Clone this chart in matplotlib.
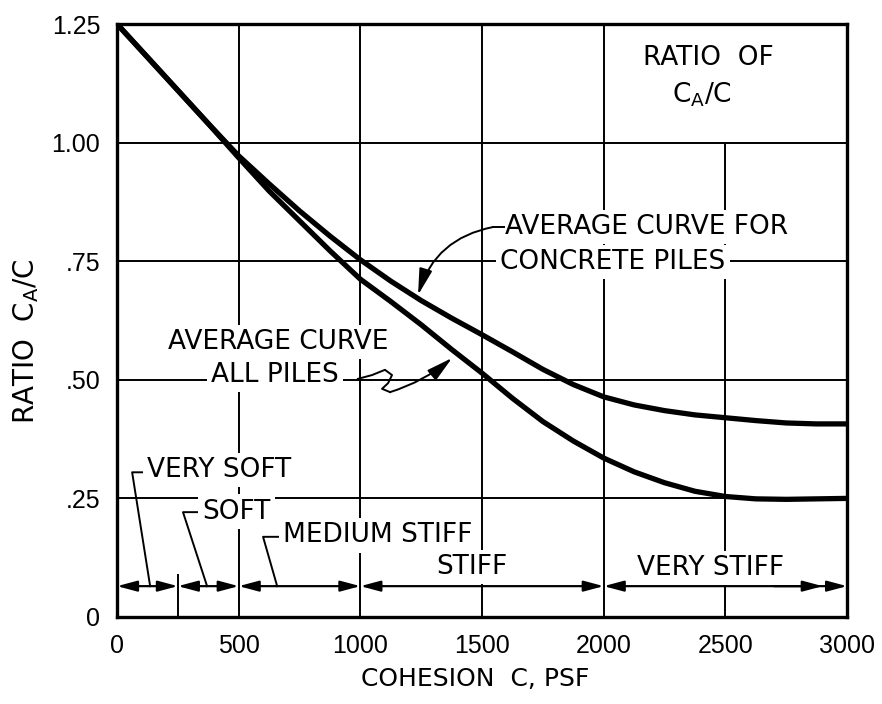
import matplotlib
matplotlib.use('Agg')
import matplotlib.pyplot as plt

# curves (cohesion in psf, ratio Ca/C)
cohesion = [0, 125, 250, 375, 500, 625, 750, 875, 1000, 1125, 1250, 1375, 1500,
            1625, 1750, 1875, 2000, 2125, 2250, 2375, 2500, 2625, 2750, 2875, 3000]
ratio_concrete = [1.25, 1.18, 1.11, 1.04, 0.972, 0.913, 0.856, 0.803, 0.753, 0.708,
                  0.667, 0.63, 0.595, 0.559, 0.522, 0.49, 0.464, 0.447, 0.435, 0.426,
                  0.42, 0.414, 0.409, 0.407, 0.407]
ratio_all = [1.25, 1.18, 1.11, 1.04, 0.968, 0.898, 0.835, 0.772, 0.712, 0.665,
             0.616, 0.564, 0.514, 0.461, 0.412, 0.371, 0.335, 0.306, 0.283, 0.265,
             0.254, 0.249, 0.248, 0.249, 0.25]

# soil consistency ranges
consistency = ['VERY SOFT', 'SOFT', 'MEDIUM STIFF', 'STIFF', 'VERY STIFF']
range_start = [0, 250, 500, 1000, 2000]
range_end = [250, 500, 1000, 2000, 3000]

x_ticks = [0, 500, 1000, 1500, 2000, 2500, 3000]
x_ticklabels = ['0', '500', '1000', '1500', '2000', '2500', '3000']
y_ticks = [0, 0.25, 0.5, 0.75, 1.0, 1.25]
y_ticklabels = ['0', '.25', '.50', '.75', '1.00', '1.25']

FONT = 'DejaVu Sans'
NUMFONT = ['Liberation Sans', 'DejaVu Sans']
band_y = 0.065
white = dict(facecolor='white', edgecolor='none', pad=3)

fig = plt.figure(figsize=(8.82, 7.04), dpi=100)
ax = fig.add_axes([0.1327, 0.1236, 0.8277, 0.8423])
ax.set_xlim(0, 3000)
ax.set_ylim(0, 1.25)

# grid
ax.vlines([500, 1000, 1500, 2000], 0, 1.25, color='black', lw=1.4, zorder=1)
ax.vlines(2500, 0, 1.0, color='black', lw=1.4, zorder=1)
ax.hlines([0.25, 0.5, 0.75, 1.0], 0, 3000, color='black', lw=1.4, zorder=1)
ax.vlines(250, 0, 0.09, color='black', lw=1.4, zorder=1)

# curves
ax.plot(cohesion, ratio_concrete, color='black', lw=3.8, zorder=4,
        solid_joinstyle='round')
ax.plot(cohesion, ratio_all, color='black', lw=3.8, zorder=4,
        solid_joinstyle='round')

# consistency dimension line
for s, e in zip(range_start, range_end):
    ax.annotate('', xy=(e, band_y), xytext=(s, band_y),
                arrowprops=dict(arrowstyle='<|-|>,head_length=0.6,head_width=0.16',
                                color='black', lw=1.6, shrinkA=0, shrinkB=0,
                                mutation_scale=20), zorder=3)
ax.annotate('', xy=(2900, band_y), xytext=(2700, band_y),
            arrowprops=dict(arrowstyle='-|>,head_length=0.6,head_width=0.16',
                            color='black', lw=1.6, shrinkA=0, shrinkB=0,
                            mutation_scale=20), zorder=3)

tkw = dict(fontsize=19, family=FONT, color='black', zorder=5)
# labels with leaders
ax.text(125, 0.31, consistency[0], ha='left', va='center', bbox=white, **tkw)
ax.plot([118, 62, 136], [0.305, 0.305, band_y], color='black', lw=1.4, zorder=3)
ax.text(352, 0.222, consistency[1], ha='left', va='center', bbox=white, **tkw)
ax.plot([345, 271, 370], [0.221, 0.221, band_y], color='black', lw=1.4, zorder=3)
ax.text(682, 0.172, consistency[2], ha='left', va='center', bbox=white, **tkw)
ax.plot([675, 600, 658], [0.169, 0.169, band_y], color='black', lw=1.4, zorder=3)
ax.text(1460, 0.105, consistency[3], ha='center', va='center', bbox=white, **tkw)
ax.text(2437, 0.103, consistency[4], ha='center', va='center', bbox=white, **tkw)

# curve labels
ax.text(1595, 0.822, 'AVERAGE CURVE FOR', ha='left', va='center', bbox=white, **tkw)
ax.text(1575, 0.748, 'CONCRETE PILES', ha='left', va='center', bbox=white, **tkw)
ax.annotate('', xy=(1237, 0.679), xytext=(1545, 0.822),
            arrowprops=dict(arrowstyle='-|>,head_length=0.8,head_width=0.2',
                            connectionstyle='arc3,rad=0.3', color='black', lw=1.4,
                            shrinkA=0, shrinkB=0, mutation_scale=20), zorder=5)
ax.plot([1545, 1590], [0.822, 0.822], color='black', lw=1.4, zorder=5)

ax.text(663, 0.58, 'AVERAGE CURVE', ha='center', va='center', bbox=white, **tkw)
ax.text(650, 0.51, 'ALL PILES', ha='center', va='center', bbox=white, **tkw)
ax.plot([990, 1048, 1101, 1130, 1114, 1089, 1122],
        [0.502, 0.510, 0.521, 0.510, 0.493, 0.481, 0.474],
        color='black', lw=1.4, zorder=5, solid_joinstyle='round')
ax.annotate('', xy=(1377, 0.546), xytext=(1122, 0.474),
            arrowprops=dict(arrowstyle='-|>,head_length=0.8,head_width=0.2',
                            connectionstyle='arc3,rad=0.1', color='black', lw=1.4,
                            shrinkA=0, shrinkB=0, mutation_scale=20), zorder=5)

ax.text(2430, 1.178, 'RATIO  OF', ha='center', va='center', **tkw)
ax.text(2405, 1.10, r'C$_\mathregular{A}$/C', ha='center', va='center', **tkw)

# axes
for sp in ax.spines.values():
    sp.set_linewidth(2.4)
    sp.set_zorder(6)
ax.set_xticks(x_ticks)
ax.set_xticklabels(x_ticklabels, family=NUMFONT, fontsize=18)
ax.set_yticks(y_ticks)
ax.set_yticklabels(y_ticklabels, family=NUMFONT, fontsize=18)
ax.tick_params(length=0, pad=12)
ax.set_xlabel('COHESION  C, PSF', fontsize=18, family=FONT)
ax.set_ylabel(r'RATIO  C$_\mathregular{A}$/C', fontsize=20, family=FONT)
ax.yaxis.set_label_coords(-0.104, 0.465)
ax.xaxis.set_label_coords(0.49, -0.085)

fig.savefig('out.png', dpi=100)
